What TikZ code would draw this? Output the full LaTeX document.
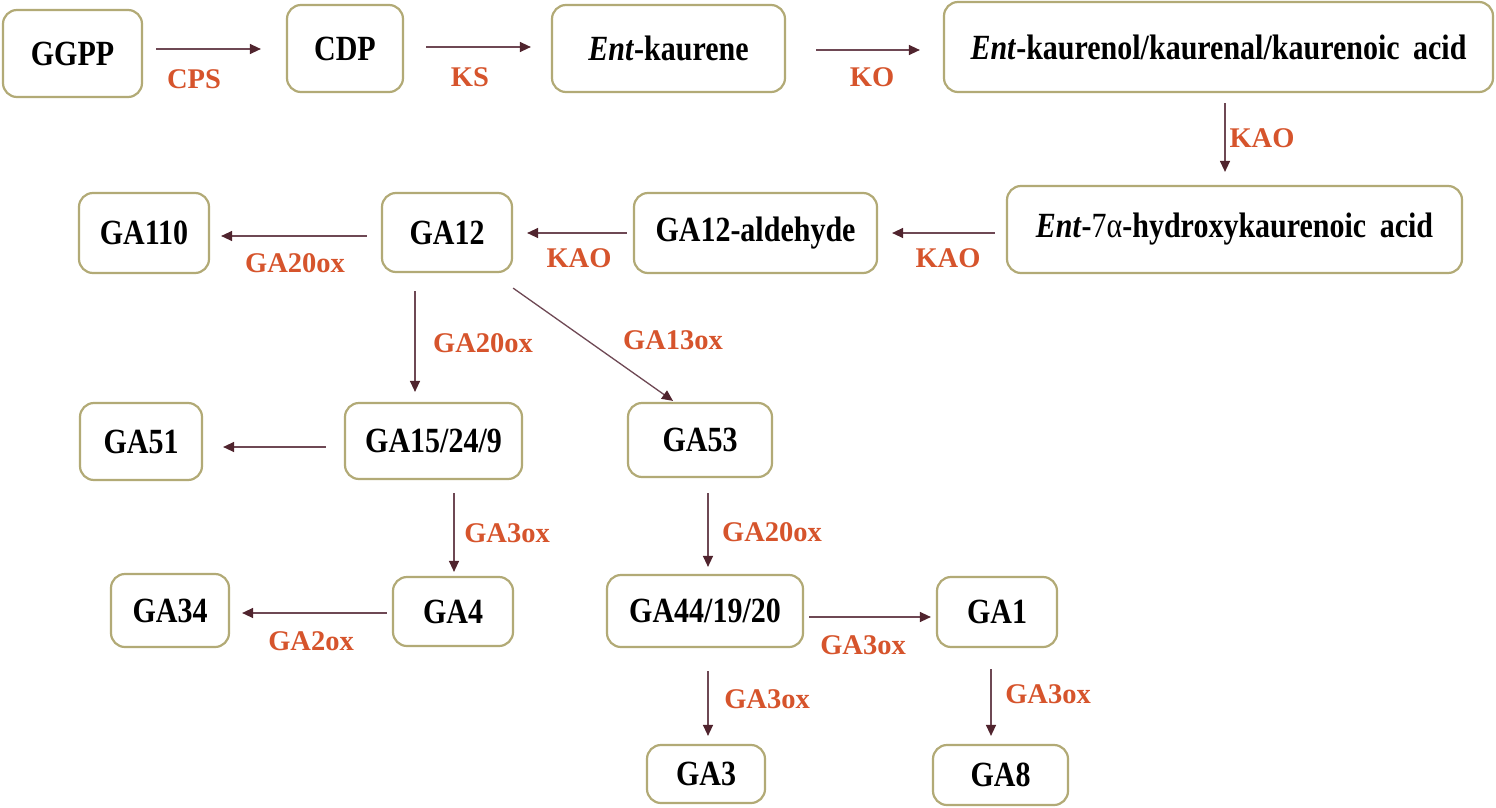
\documentclass[tikz,border=0pt]{standalone}
\usepackage{fontspec}
\setmainfont{Liberation Serif}
\usetikzlibrary{arrows.meta,calc}
\definecolor{boxline}{RGB}{178,170,118}
\definecolor{arrline}{RGB}{110,72,84}
\definecolor{arrtip}{RGB}{80,36,46}
\definecolor{enz}{RGB}{214,84,44}
\newcommand\stre[1]{\scalebox{1}[1.18]{#1}}
\tikzset{
  gabox/.style={draw=boxline, line width=2.2pt, rounded corners=14pt, fill=white,
    inner sep=0pt, font=\fontsize{30}{32}\selectfont\bfseries},
  arr/.style={draw=arrline, line width=1.3pt, -{Triangle[length=11pt,width=10pt,color=arrtip]}},
  enzlab/.style={text=enz, inner sep=0pt, font=\fontsize{28.5}{30}\selectfont\bfseries}
}
\begin{document}
\begin{tikzpicture}[x=1pt,y=-1pt]
\useasboundingbox[fill=white] (0,0) rectangle (1496,808);
% boxes
\node[gabox, minimum width=139pt, minimum height=87pt] (ggpp) at (72.5,53.5) {\stre{GGPP}};
\node[gabox, minimum width=116pt, minimum height=87pt] (cdp) at (345,48.5) {\stre{CDP}};
\node[gabox, minimum width=233pt, minimum height=87pt] (entk) at (668.5,48.5) {\stre{\textit{Ent}-kaurene}};
\node[gabox, minimum width=549pt, minimum height=90pt] (entkol) at (1218.5,47) {\stre{\textit{Ent}-kaurenol/kaurenal/kaurenoic\hspace{0.45em}acid}};
\node[gabox, minimum width=455pt, minimum height=87pt] (ent7) at (1234.5,229.5) {\stre{\textit{Ent}-{\mdseries 7α}-hydroxykaurenoic\hspace{0.45em}acid}};
\node[gabox, minimum width=243pt, minimum height=80pt] (ald) at (755.5,233) {\stre{GA12-aldehyde}};
\node[gabox, minimum width=130pt, minimum height=79pt] (ga12) at (447,232.5) {\stre{GA12}};
\node[gabox, minimum width=130pt, minimum height=80pt] (ga110) at (144,233) {\stre{GA110}};
\node[gabox, minimum width=122pt, minimum height=77pt] (ga51) at (141,441.5) {\stre{GA51}};
\node[gabox, minimum width=177pt, minimum height=76pt] (ga159) at (433.5,441) {\stre{GA15/24/9}};
\node[gabox, minimum width=144pt, minimum height=74pt] (ga53) at (700,440) {\stre{GA53}};
\node[gabox, minimum width=118pt, minimum height=73pt] (ga34) at (170,610.5) {\stre{GA34}};
\node[gabox, minimum width=120pt, minimum height=69pt] (ga4) at (453,611.5) {\stre{GA4}};
\node[gabox, minimum width=196pt, minimum height=72pt] (ga44) at (705,611) {\stre{GA44/19/20}};
\node[gabox, minimum width=120pt, minimum height=70pt] (ga1) at (997,612) {\stre{GA1}};
\node[gabox, minimum width=118pt, minimum height=58pt] (ga3) at (706,774) {\stre{GA3}};
\node[gabox, minimum width=135pt, minimum height=60pt] (ga8) at (1000.5,775) {\stre{GA8}};
% connectors
\draw[arr] ($(ggpp.east)+(13,-4.5)$) -- ($(cdp.west)+(-25,0.5)$);
\draw[arr] ($(cdp.east)+(22,-1.5)$) -- ($(entk.west)+(-20,-1.5)$);
\draw[arr] ($(entk.east)+(30,1.5)$) -- ($(entkol.west)+(-23,3)$);
\draw[arr] ($(entkol.south)+(6.5,10)$) -- ($(ent7.north)+(-9.5,-13)$);
\draw[arr] ($(ent7.west)+(-11,3.5)$) -- ($(ald.east)+(14,0)$);
\draw[arr] ($(ald.west)+(-6,0)$) -- ($(ga12.east)+(14,0.5)$);
\draw[arr] ($(ga12.west)+(-14,3.5)$) -- ($(ga110.east)+(11,3)$);
\draw[arr] ($(ga12.south)+(-32,18)$) -- ($(ga159.north)+(-18.5,-10)$);
\draw[arr] ($(ga12.south east)+(0,15)$) -- ($(ga53.north)+(-27,-1)$);
\draw[arr] ($(ga159.west)+(-18,6)$) -- ($(ga51.east)+(20,5.5)$);
\draw[arr] ($(ga159.south)+(20.5,13)$) -- ($(ga4.north)+(1,-4)$);
\draw[arr] ($(ga53.south)+(8,15)$) -- ($(ga44.north)+(3,-7)$);
\draw[arr] ($(ga4.west)+(-5,1.5)$) -- ($(ga34.east)+(12,2.5)$);
\draw[arr] ($(ga44.east)+(5,6)$) -- ($(ga1.west)+(-5,5)$);
\draw[arr] ($(ga44.south)+(3,23)$) -- ($(ga3.north)+(2,-8)$);
\draw[arr] ($(ga1.south)+(-6,21)$) -- ($(ga8.north)+(-9.5,-8)$);
% enzyme labels
\node[enzlab] (lcps) at (194,79) {CPS};
\node[enzlab] (lks) at (470,77) {KS};
\node[enzlab] (lko) at (872,77) {KO};
\node[enzlab] (lkao1) at (1262,138) {KAO};
\node[enzlab] (lkao2) at (948,258) {KAO};
\node[enzlab] (lkao3) at (579,258) {KAO};
\node[enzlab] (l20a) at (295,263) {GA20ox};
\node[enzlab] (l20b) at (483,343) {GA20ox};
\node[enzlab] (l13) at (673,340) {GA13ox};
\node[enzlab] (l3a) at (507,533) {GA3ox};
\node[enzlab] (l20c) at (772,532) {GA20ox};
\node[enzlab] (l2) at (311,641) {GA2ox};
\node[enzlab] (l3b) at (863,645) {GA3ox};
\node[enzlab] (l3c) at (767,699) {GA3ox};
\node[enzlab] (l3d) at (1048,694) {GA3ox};
\end{tikzpicture}
\end{document}
